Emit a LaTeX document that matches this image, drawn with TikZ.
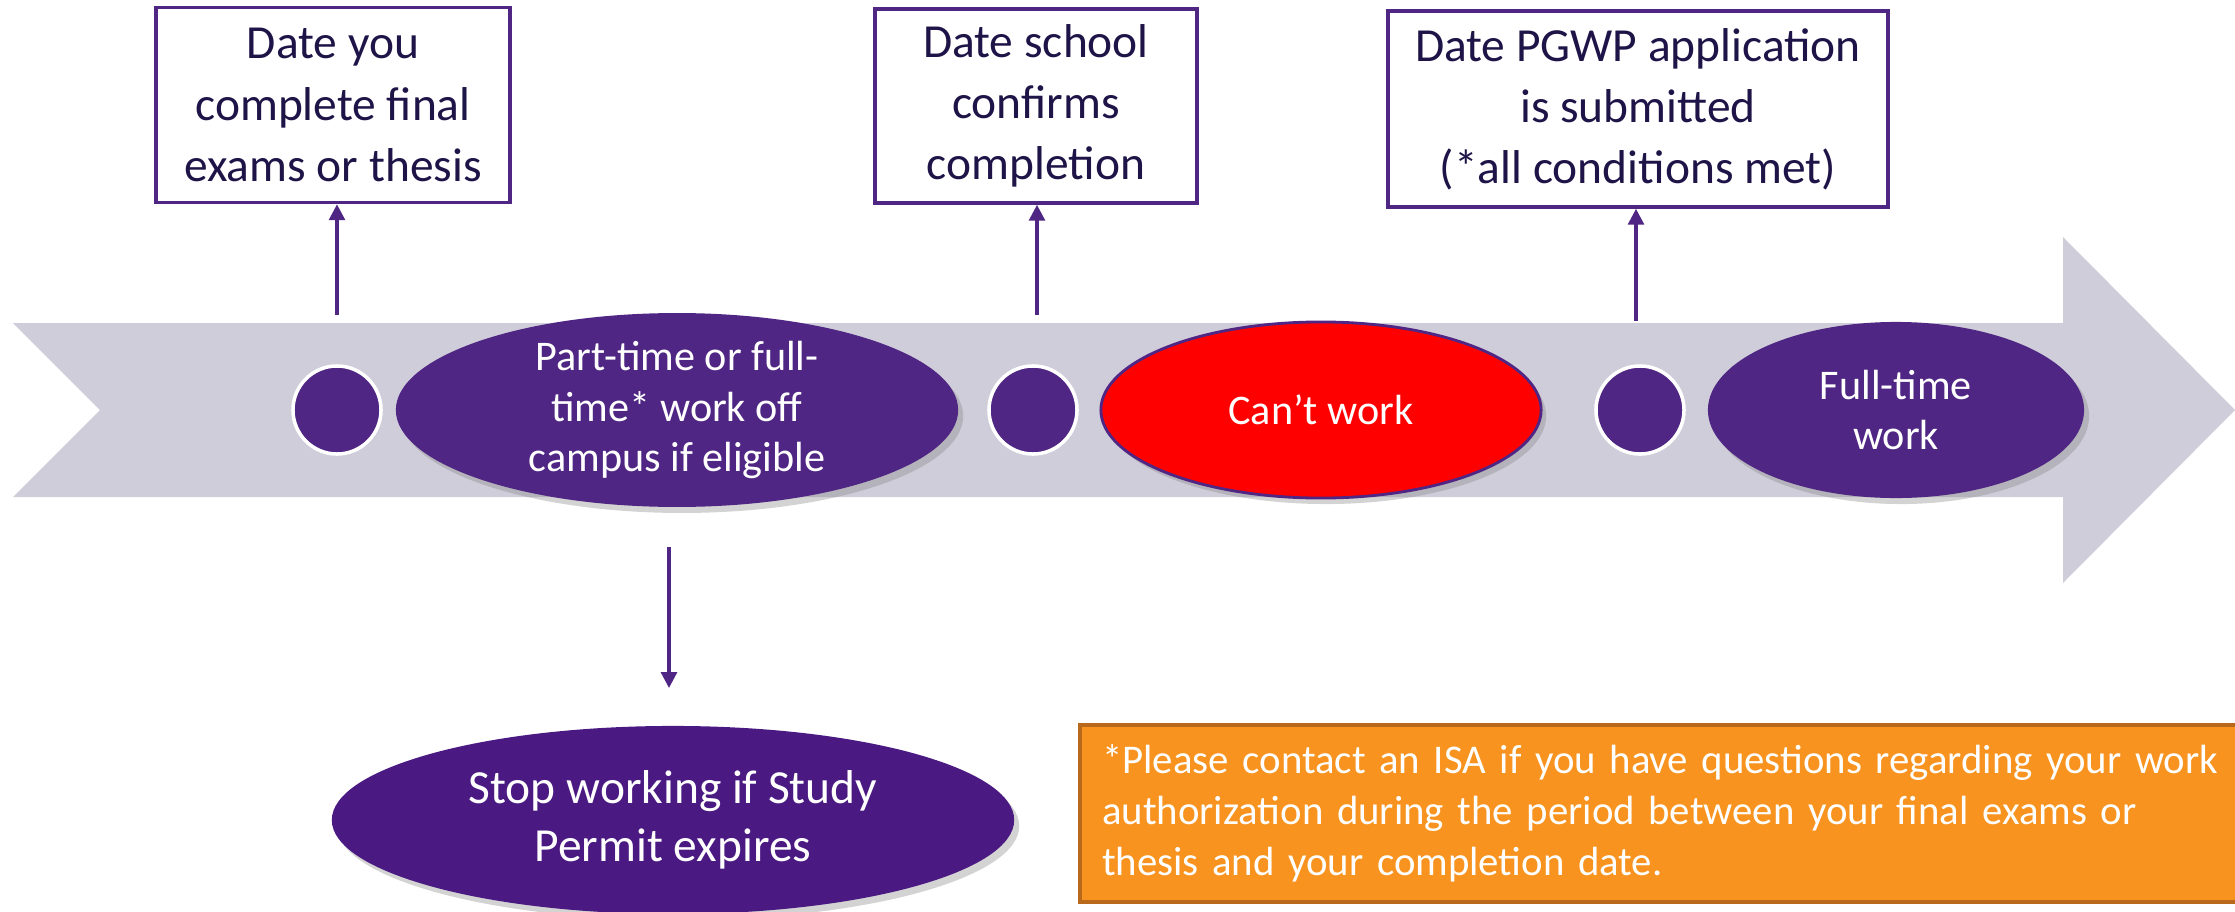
\documentclass[tikz,border=0pt]{standalone}
\usepackage{fontspec}
\setmainfont{Carlito}
\usetikzlibrary{shapes.geometric,arrows.meta,shadows}
\definecolor{western}{HTML}{4F2683}
\definecolor{deeppurple}{HTML}{4A1A82}
\definecolor{band}{HTML}{D0CDDA}
\definecolor{ink}{HTML}{1F1447}
\definecolor{isaorange}{HTML}{F7931E}
\definecolor{isaedge}{HTML}{B8691C}

\begin{document}
\begin{tikzpicture}[x=0.01cm,y=-0.01cm,
    datebox/.style={draw=western,line width=1pt,text=ink,align=center,
      font=\fontsize{13.5}{17.4}\selectfont,inner sep=0pt},
    period/.style={ellipse,fill=western,text=white,align=center,inner sep=0pt,
      minimum height=1.76cm,font=\fontsize{12}{14.3}\selectfont,
      drop shadow={shadow xshift=.05cm,shadow yshift=-.06cm,opacity=.35}},
    dot/.style={circle,fill=western,draw=white,line width=1pt,minimum size=.88cm,inner sep=0pt},
    link/.style={draw=western,line width=.9pt,-{Triangle[length=4.5pt,width=4.5pt]}}]
  \useasboundingbox (0,0) rectangle (2235,912);
  % timeline band
  \fill[band] (13,323) -- (2063,323) -- (2063,237) -- (2235,410) -- (2063,583)
    -- (2063,497) -- (13,497) -- (100,410) -- cycle;
  \node[dot] (d1) at (337,410) {};
  \node[dot] (d2) at (1033,410) {};
  \node[dot] (d3) at (1640,410) {};
  \node[period,minimum width=5.62cm] (offcampus) at (677,410)
    {Part-time or full-\\time* work off\\campus if eligible};
  \node[period,fill=red,draw=western,line width=.8pt,minimum width=4.4cm] (cantwork)
    at (1321,410) {Can’t work};
  \node[period,minimum width=3.76cm] (fulltime) at (1896,410) {Full-time\\work};
  \node[period,fill=deeppurple,minimum width=6.82cm,minimum height=1.88cm,
    font=\fontsize{13.5}{16.5}\selectfont] (expire) at (673,820)
    {Stop working if Study\\Permit expires};
  % dates
  \node[datebox,minimum width=3.54cm,minimum height=1.95cm] (exams) at (333,105)
    {Date you\\complete final\\exams or thesis};
  \node[datebox,minimum width=3.22cm,minimum height=1.94cm] (confirm) at (1036,106)
    {Date school\\confirms\\completion};
  \node[datebox,minimum width=5cm,minimum height=1.96cm] (pgwp) at (1638,109)
    {Date PGWP application\\is submitted\\(*all conditions met)};
  \coordinate (t1) at (337,315); \draw[link] (t1) -- (t1 |- exams.south);
  \coordinate (t2) at (1037,315); \draw[link] (t2) -- (t2 |- confirm.south);
  \coordinate (t3) at (1636,321); \draw[link] (t3) -- (t3 |- pgwp.south);
  \coordinate (t4) at (669,547); \coordinate (t5) at (669,688);
  \draw[link] (t4) -- (t5);
  % note
  \node[fill=isaorange,draw=isaedge,line width=1.2pt,text=white,align=left,
    anchor=north west,minimum height=1.77cm,text width=11.6cm,inner xsep=.22cm,
    font=\fontsize{11.6}{14.5}\selectfont] (note) at (1078,723)
    {*Please contact an ISA if you have questions regarding your work\\
     authorization during the period between your final exams or\\
     thesis and your completion date.};
\end{tikzpicture}
\end{document}
